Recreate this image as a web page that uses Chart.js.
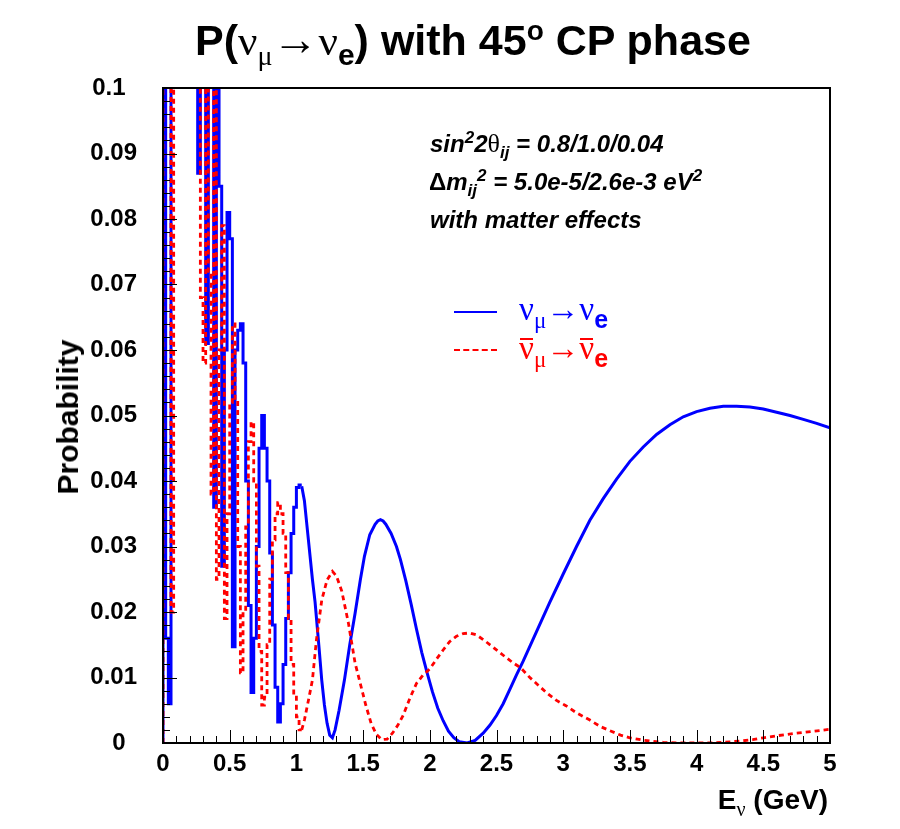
<!DOCTYPE html>
<html><head><meta charset="utf-8">
<script src="https://cdn.jsdelivr.net/npm/chart.js@4.4.1/dist/chart.umd.min.js"></script>
<style>
html,body{margin:0;padding:0;background:#fff;}
#wrap{position:relative;width:900px;height:829px;overflow:hidden;background:#fff;}
#c{position:absolute;left:0;top:0;}
.t{position:absolute;white-space:nowrap;font-family:'Liberation Sans',Arial,Helvetica,sans-serif;font-weight:bold;color:#000;line-height:1;}
.g{font-family:'Liberation Serif','DejaVu Serif',serif;font-weight:normal;}
.it{font-style:italic;}
sub,sup{line-height:0;}
.ob{position:relative;display:inline-block;}
.ob::before{content:'';position:absolute;left:1px;right:1px;top:0.17em;border-top:2px solid currentColor;}
</style>
</head><body>
<div id="wrap">
<canvas id="c" width="900" height="829"></canvas>
<div class="t" id="title" style="left:195px;top:17px;font-size:43px;">P(<span class="g">ν</span><sub class="g" style="font-size:28px;">μ</sub><span class="g" style="font-size:46px;">→</span><span class="g">ν</span><sub style="font-size:30px;">e</sub>) with 45<sup style="font-size:28px;">o</sup> CP phase</div>
<div class="t it" style="left:430px;top:131px;font-size:24px;">sin<sup style="font-size:17px;">2</sup>2<span class="g" style="font-style:normal;font-size:26px;">θ</span><sub style="font-size:17px;">ij</sub> = 0.8/1.0/0.04</div>
<div class="t it" style="left:429px;top:170px;font-size:24px;"><span style="font-style:normal">Δ</span>m<sub style="font-size:17px;">ij</sub><sup style="font-size:17px;">2</sup> = 5.0e-5/2.6e-3 eV<sup style="font-size:17px;">2</sup></div>
<div class="t it" style="left:430px;top:208px;font-size:24px;">with matter effects</div>
<div style="position:absolute;left:454px;top:311px;width:43px;height:0;border-top:2px solid #0000ff;"></div>
<div style="position:absolute;left:454px;top:349px;width:43px;height:0;border-top:2px dashed #ff0000;"></div>
<div class="t" style="left:519px;top:292px;font-size:33px;color:#0000ff;"><span class="g">ν</span><sub class="g" style="font-size:23px;">μ</sub><span class="g">→ν</span><sub style="font-size:25px;">e</sub></div>
<div class="t" style="left:519px;top:331px;font-size:33px;color:#ff0000;"><span class="g ob">ν</span><sub class="g" style="font-size:23px;">μ</sub><span class="g">→</span><span class="g ob">ν</span><sub style="font-size:25px;">e</sub></div>
<div class="t" style="left:68px;top:417px;font-size:30px;transform:translate(-50%,-50%) rotate(-90deg);">Probability</div>
<div class="t" style="right:72px;top:786px;font-size:28px;">E<sub class="g" style="font-size:20px;">ν</sub> (GeV)</div>
</div>
<script>
// ---- data ----
const binWidth = 0.02;           // histogram bin width (GeV) for the low-energy part
const blueLow = [0.13,0.016,0.006,0.18,0.26,0.33,0.24,0.36,0.29,0.31,0.25,0.19,0.14,0.087,0.12,0.11,0.061,0.115,0.104,0.036,
  0.105,0.085,0.027,0.060,0.081,0.077,0.0147,0.060,0.063,0.064,0.058,0.040,0.021,0.0077,0.016,0.030,0.045,0.050,0.045,0.040,
  0.029,0.018,0.0085,0.0032,0.006,0.012,0.019,0.026,0.032,0.036,0.039,0.0394];
const redLow = [0.15,0.12,0.13,0.020,0.22,0.30,0.35,0.27,0.33,0.26,0.21,0.17,0.15,0.14,0.068,0.058,0.12,0.072,0.038,0.11,
  0.025,0.060,0.079,0.019,0.035,0.052,0.064,0.052,0.030,0.0107,0.020,0.033,0.046,0.049,0.040,0.027,0.014,0.0058,0.007,0.015,
  0.025,0.031,0.035,0.0367,0.035,0.032,0.026,0.019,0.012,0.007,0.004,0.002];
const blueHighE = [1.04,1.06,1.09,1.12,1.14,1.17,1.19,1.21,1.23,1.25,1.27,1.29,1.32,1.36,1.40,1.44,1.48,1.51,1.55,1.59,1.61,1.63,1.65,1.67,1.71,1.75,1.78,1.82,1.86,1.90,1.94,1.98,
  2.02,2.06,2.10,2.14,2.18,2.22,2.28,2.34,2.40,2.45,2.50,2.55,2.60,2.65,2.70,2.80,2.90,3.00,3.10,3.20,3.30,3.40,3.50,3.60,3.70,3.80,3.90,4.00,4.10,4.20,4.30,4.40,4.50,4.60,4.70,4.80,4.90,5.00];
const blueHighP = [0.0392,0.0370,0.0310,0.0250,0.0215,0.0145,0.0096,0.0058,0.0030,0.0012,0.0008,0.0020,0.0050,0.0096,0.0150,0.0198,0.0250,0.0285,0.0318,0.0334,0.0339,0.0341,0.0339,0.0334,0.0320,0.0300,0.0280,0.0248,0.0212,0.0174,0.0138,0.0107,
  0.0078,0.0053,0.0034,0.0018,0.0008,0.0002,0.0000,0.0004,0.0015,0.0027,0.0042,0.0060,0.0082,0.0104,0.0125,0.0170,0.0215,0.0258,0.0300,0.0340,0.0373,0.0403,0.0430,0.0452,0.0471,0.0486,0.0498,0.0506,0.0511,0.0514,0.0514,0.0513,0.0510,0.0505,0.0500,0.0494,0.0488,0.0481];
const redHighE = [1.04,1.06,1.09,1.12,1.15,1.19,1.23,1.27,1.30,1.34,1.39,1.44,1.48,1.52,1.56,1.60,1.64,1.68,1.72,1.76,1.80,1.85,1.90,1.95,2.00,2.05,2.10,2.15,2.20,2.25,
  2.30,2.35,2.40,2.47,2.55,2.62,2.68,2.75,2.82,2.88,2.95,3.02,3.10,3.20,3.28,3.36,3.43,3.50,3.58,3.65,3.75,3.85,4.00,4.10,4.20,4.33,4.42,4.50,4.60,4.75,4.88,5.00];
const redHighP = [0.0020,0.0035,0.0065,0.0096,0.0157,0.0218,0.0249,0.0262,0.0255,0.0232,0.0183,0.0122,0.0090,0.0058,0.0030,0.0013,0.0005,0.0006,0.0015,0.0027,0.0042,0.0068,0.0091,0.0104,0.0113,0.0128,0.0142,0.0155,0.0163,0.0167,
  0.0168,0.0165,0.0158,0.0147,0.0134,0.0123,0.0115,0.0100,0.0087,0.0076,0.0065,0.0057,0.0046,0.0035,0.0025,0.0018,0.0012,0.0008,0.0005,0.0003,0.0001,0.0000,0.0000,0.0000,0.0001,0.0003,0.0005,0.0008,0.0011,0.0015,0.0018,0.0021];
const xTickValues = [0,0.5,1,1.5,2,2.5,3,3.5,4,4.5,5];
const xTickLabels = ['0','0.5','1','1.5','2','2.5','3','3.5','4','4.5','5'];
const yTickValues = [0,0.01,0.02,0.03,0.04,0.05,0.06,0.07,0.08,0.09,0.1];
// ROOT keeps the slot of stripped trailing zeros, so "0" and "0.1" sit a little left of the others
const yTickLabels = ['0 \u2009','0.01','0.02','0.03','0.04','0.05','0.06','0.07','0.08','0.09','0.1 \u2009'];

function histPoints(vals){
  const pts=[{x:0,y:0}];
  vals.forEach((v,i)=>pts.push({x:i*binWidth,y:v}));
  pts.push({x:vals.length*binWidth,y:vals[vals.length-1]});
  return pts;
}
function curvePoints(E,P){ return E.map((e,i)=>({x:e,y:P[i]})); }

const BLUE='#0000ff', RED='#ff0000';
const insideTicks = {
  id:'insideTicks',
  afterDatasetsDraw(chart){
    const {ctx, chartArea:a, scales:{x,y}} = chart;
    ctx.save();
    ctx.strokeStyle='#000'; ctx.lineWidth=1;
    ctx.beginPath();
    for(let k=0;k<=50;k++){
      const v=k/10, px=Math.round(x.getPixelForValue(v))+0.5;
      const len = (k%5===0)?13:7;
      ctx.moveTo(px,a.bottom); ctx.lineTo(px,a.bottom-len);
    }
    for(let k=0;k<=50;k++){
      const v=k*0.002, py=Math.round(y.getPixelForValue(v))+0.5;
      const len = (k%5===0)?14:7;
      ctx.moveTo(a.left,py); ctx.lineTo(a.left+len,py);
    }
    ctx.stroke();
    ctx.lineWidth=2;
    ctx.strokeRect(a.left,a.top,a.right-a.left,a.bottom-a.top);
    ctx.restore();
  }
};

new Chart(document.getElementById('c'),{
  type:'line',
  data:{datasets:[
    {data:histPoints(redLow),borderColor:RED,borderWidth:2.8,borderDash:[5,4],stepped:'before',pointRadius:0},
    {data:curvePoints(redHighE,redHighP),borderColor:RED,borderWidth:2.8,borderDash:[5,4],pointRadius:0},
    {data:histPoints(blueLow),borderColor:BLUE,borderWidth:3,stepped:'before',pointRadius:0},
    {data:curvePoints(blueHighE,blueHighP),borderColor:BLUE,borderWidth:3,pointRadius:0}
  ]},
  options:{
    responsive:false,animation:false,devicePixelRatio:1,
    parsing:false,
    layout:{padding:{top:88,right:70,left:0,bottom:0}},
    plugins:{legend:{display:false},title:{display:false},tooltip:{enabled:false}},
    scales:{
      x:{type:'linear',min:0,max:5,
        afterFit:s=>{s.height=86;},
        afterBuildTicks:s=>{s.ticks=xTickValues.map(v=>({value:v}));},
        grid:{display:false,drawTicks:false},border:{display:false},
        ticks:{padding:7,color:'#000',font:{family:"'Liberation Sans',Arial,sans-serif",size:24,weight:'bold'},
          maxRotation:0,autoSkip:false,callback:(v,i)=>xTickLabels[i]}},
      y:{type:'linear',min:0,max:0.1,
        afterFit:s=>{s.width=163;},
        afterBuildTicks:s=>{s.ticks=yTickValues.map(v=>({value:v}));},
        grid:{display:false,drawTicks:false},border:{display:false},
        ticks:{padding:26,color:'#000',font:{family:"'Liberation Sans',Arial,sans-serif",size:24,weight:'bold'},
          autoSkip:false,callback:(v,i)=>yTickLabels[i]}}
    }
  },
  plugins:[insideTicks]
});
</script>
</body></html>
